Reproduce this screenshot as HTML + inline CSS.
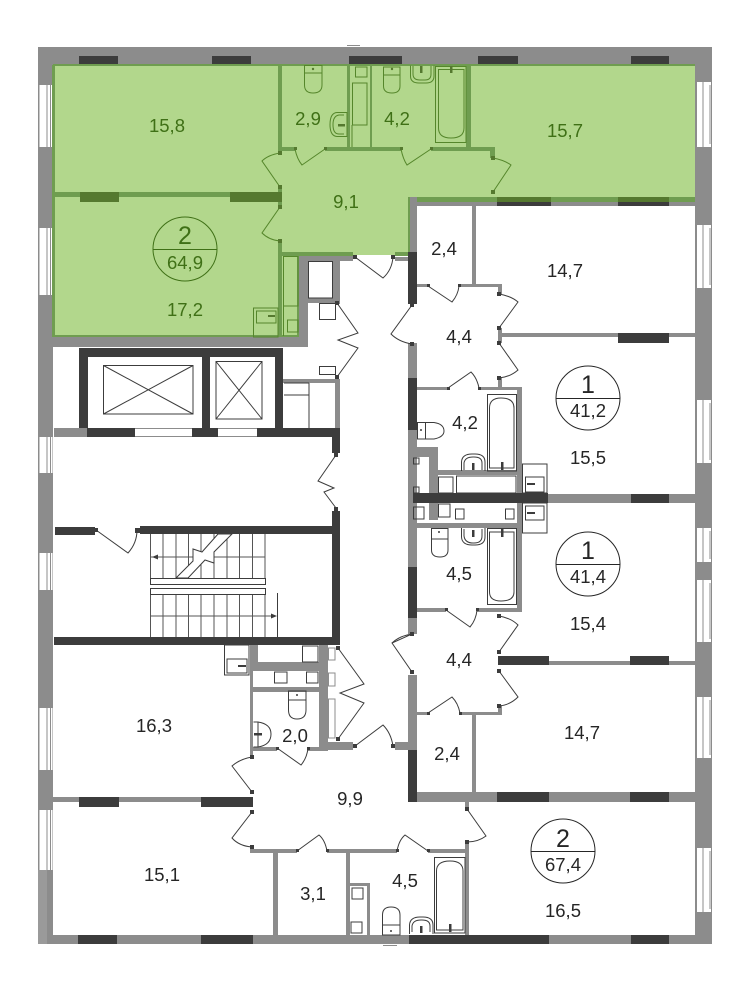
<!DOCTYPE html>
<html><head><meta charset="utf-8"><style>
html,body{margin:0;padding:0;background:#fff}
svg{display:block}
.g{fill:#8c8c8c}.d{fill:#3c3c3c}.w{fill:#6f9d50}.k{fill:#55792f}.wh{fill:#fff}
.l{fill:none;stroke:#3c3c3c;stroke-width:1}
.lg{fill:none;stroke:#8c8c8c;stroke-width:1}
.lw{fill:none;stroke:#55862b;stroke-width:1}
.bf{fill:#fff;stroke:#3c3c3c;stroke-width:1}
text{font-family:"Liberation Sans",sans-serif;font-size:18.5px;text-anchor:middle;fill:#262626}
.t{fill:#3f7016}
</style></head><body>
<svg width="741" height="1000" viewBox="0 0 741 1000" xmlns="http://www.w3.org/2000/svg">
<!-- outer wall -->
<rect class="g" x="38" y="47" width="674" height="897"/>
<rect x="38" y="870" width="9" height="74" fill="#9a9a9a"/>
<rect class="wh" x="53" y="65" width="642" height="870"/>
<rect class="g" x="347" y="45" width="13" height="1"/>
<rect class="g" x="383" y="945" width="14" height="1"/>
<!-- green area -->
<path d="M53 65H695V197H409V255H353V252H298V337H53Z" fill="#b2d78c"/>
<!-- top/bottom dark -->
<g class="d">
<rect x="79" y="56" width="39" height="9"/><rect x="212" y="56" width="39" height="9"/><rect x="349" y="56" width="53" height="9"/><rect x="478" y="56" width="40" height="9"/><rect x="631" y="56" width="38" height="9"/>
<rect x="78" y="935" width="39" height="9"/><rect x="201" y="935" width="52" height="9"/><rect x="409" y="935" width="140" height="9"/><rect x="631" y="935" width="38" height="9"/>
</g>
<!-- green edge -->
<g class="w">
<rect x="53" y="64" width="642" height="2"/><rect x="52" y="65" width="3" height="272"/><rect x="53" y="335" width="245" height="2"/>
<rect x="53" y="192" width="227" height="5"/><rect x="278" y="65" width="4" height="88"/><rect x="278" y="147" width="17" height="4"/>
<rect x="325" y="147" width="76" height="4"/><rect x="431" y="147" width="64" height="4"/>
<rect x="347" y="65" width="3" height="84"/><rect x="370" y="65" width="2" height="84"/>
<rect x="466" y="65" width="5" height="85"/><rect x="490" y="147" width="5" height="11"/>
<rect x="278" y="241" width="4" height="96"/><rect x="278" y="252" width="75" height="4"/><rect x="395" y="252" width="14" height="4"/>
<rect x="297" y="256" width="2" height="81"/>
<rect x="408" y="197" width="287" height="5"/><rect x="408" y="197" width="2" height="58"/>
<rect x="278" y="187" width="4" height="5"/><rect x="278" y="202" width="4" height="5"/>
</g>
<g class="k"><rect x="80" y="192" width="39" height="10"/><rect x="230" y="192" width="52" height="10"/></g>
<!-- gray walls -->
<g class="g">
<rect x="38" y="337" width="270" height="10"/><rect x="299" y="256" width="9" height="82"/><rect x="299" y="256" width="54" height="5"/><rect x="333" y="256" width="7" height="48"/><rect x="308" y="298" width="32" height="5"/><rect x="395" y="257" width="14" height="4"/>
<rect x="283" y="379" width="57" height="4"/><rect x="335" y="379" width="5" height="49"/>
<rect x="54" y="428" width="33" height="9"/>
<rect x="410" y="202" width="285" height="4"/><rect x="410" y="197" width="7" height="56"/><rect x="472" y="206" width="4" height="80"/>
<rect x="417" y="284" width="11" height="3"/><rect x="459" y="284" width="43" height="3"/><rect x="498" y="284" width="4" height="10"/>
<rect x="498" y="328" width="4" height="15"/><rect x="500" y="333" width="195" height="4"/>
<rect x="498" y="378" width="4" height="10"/><rect x="417" y="387" width="31" height="3"/><rect x="479" y="387" width="43" height="3"/>
<rect x="408" y="343" width="9" height="35"/><rect x="408" y="430" width="9" height="100"/>
<rect x="417" y="447" width="21" height="10"/><rect x="429" y="457" width="9" height="63"/><rect x="438" y="470" width="80" height="5"/>
<rect x="408" y="523" width="112" height="5"/><rect x="517" y="387" width="5" height="225"/>
<rect x="548" y="494" width="147" height="9"/>
<rect x="408" y="528" width="9" height="39"/><rect x="408" y="618" width="9" height="16"/>
<rect x="417" y="608" width="29" height="4"/><rect x="477" y="608" width="45" height="4"/>
<rect x="549" y="661" width="146" height="4"/><rect x="408" y="675" width="9" height="75"/><rect x="395" y="742" width="13" height="8"/>
<rect x="417" y="712" width="11" height="3"/><rect x="460" y="712" width="42" height="3"/><rect x="498" y="705" width="4" height="10"/>
<rect x="472" y="715" width="4" height="77"/><rect x="417" y="792" width="278" height="10"/>
<rect x="465" y="802" width="4" height="8"/><rect x="465" y="842" width="4" height="93"/>
<rect x="250" y="849" width="47" height="4"/><rect x="327" y="849" width="70" height="4"/><rect x="428" y="849" width="41" height="4"/>
<rect x="273" y="853" width="5" height="82"/><rect x="346" y="853" width="4" height="82"/>
<rect x="350" y="883" width="17" height="3"/><rect x="367" y="883" width="3" height="52"/>
<rect x="53" y="797" width="148" height="5"/>
<rect x="250" y="645" width="3" height="113"/><rect x="250" y="645" width="8" height="26"/><rect x="250" y="662" width="69" height="9"/><rect x="253" y="687" width="66" height="5"/>
<rect x="319" y="645" width="9" height="105"/><rect x="253" y="747" width="24" height="4"/><rect x="308" y="747" width="20" height="4"/><rect x="328" y="742" width="25" height="8"/>
<rect x="250" y="847" width="3" height="5"/>
</g>
<!-- dark walls -->
<g class="d">
<rect x="408" y="252" width="9" height="52"/><rect x="618" y="333" width="51" height="10"/><rect x="408" y="378" width="9" height="52"/>
<rect x="413" y="493" width="135" height="10"/><rect x="631" y="494" width="38" height="9"/>
<rect x="408" y="567" width="9" height="51"/><rect x="498" y="656" width="51" height="9"/><rect x="630" y="656" width="39" height="9"/>
<rect x="408" y="750" width="9" height="52"/><rect x="497" y="792" width="52" height="10"/><rect x="630" y="792" width="39" height="10"/>
<rect x="497" y="197" width="54" height="9" /><rect x="618" y="197" width="51" height="9"/>
<rect x="79" y="348" width="204" height="9"/><rect x="79" y="348" width="9" height="80"/><rect x="202" y="348" width="8" height="80"/><rect x="275" y="348" width="8" height="80"/>
<rect x="87" y="428" width="48" height="9"/><rect x="192" y="428" width="26" height="9"/><rect x="257" y="428" width="83" height="9"/>
<rect x="332" y="428" width="8" height="25"/><rect x="332" y="511" width="8" height="134"/>
<rect x="140" y="526" width="192" height="8"/><rect x="55" y="527" width="40" height="8"/>
<rect x="54" y="637" width="286" height="8"/>
<rect x="79" y="797" width="40" height="10"/><rect x="201" y="797" width="52" height="10"/>
</g>
<rect x="497" y="197" width="54" height="5" fill="#55792f"/><rect x="618" y="197" width="51" height="5" fill="#55792f"/>
<!-- window gaps core -->
<g class="lg"><path d="M135 436.5H192M218 436.5H257M135 428.5H192M218 428.5H257"/></g>
<!-- side windows -->
<g id="leftw">
<rect class="wh" x="39.5" y="85" width="13" height="62"/><rect class="wh" x="39.5" y="228" width="13" height="67"/><rect class="wh" x="39.5" y="437" width="13" height="36"/><rect class="wh" x="39.5" y="553" width="13" height="37"/><rect class="wh" x="39.5" y="708" width="13" height="62"/><rect class="wh" x="39.5" y="810" width="13" height="60"/>
</g>
<path class="lg" d="M47 85V147M50.500 85V147M47 228V295M50.500 228V295M47 437V473M50.500 437V473M47 553V590M50.500 553V590M47 708V770M50.500 708V770M47 810V870M50.500 810V870"/>
<path stroke="#6f9d50" fill="none" d="M52.500 85V147M52.500 228V295"/>
<rect class="wh" x="697" y="82" width="14" height="65"/><rect class="wh" x="697" y="225" width="14" height="63"/><rect class="wh" x="697" y="400" width="14" height="63"/><rect class="wh" x="697" y="528" width="14" height="34"/><rect class="wh" x="697" y="580" width="14" height="62"/><rect class="wh" x="697" y="697" width="14" height="61"/><rect class="wh" x="697" y="848" width="14" height="64"/>
<path class="lg" d="M703 82V147M710 85V144M703 225V288M710 228V285M703 400V463M710 403V460M703 528V562M710 531V559M703 580V642M710 583V639M703 697V758M710 700V755M703 848V912M710 851V909"/>
<!-- lift -->
<path class="l" d="M103.500 365.500H193V414H103.500ZM103.500 365.500L193 414M193 365.500L103.500 414"/>
<path class="l" d="M216 361.500H262V419H216ZM216 361.500L262 419M262 361.500L216 419"/>
<path class="l" d="M284 395H309M309 383V428M284 383H309"/>
<path class="l" d="M308.500 261.500H332.500V298H308.500Z"/>
<rect class="bf" x="319.500" y="303.500" width="16" height="16"/><rect class="bf" x="319.500" y="366.500" width="16" height="8"/>
<!-- stairs -->
<path class="lg" style="stroke:#555" d="M150.500 534V578M163 534V578M176 534V578M188.500 534V578M201 534V578M214 534V578M227 534V578M239.500 534V578M252.500 534V578M265 534V578M150 557H265M150.500 594V637M163 594V637M176 594V637M188.500 594V637M201 594V637M214 594V637M227 594V637M239.500 594V637M252.500 594V637M265 594V637M150 616H272"/>
<path class="l" d="M150.500 578.500H265.500V584.500H150.500ZM150.500 588.500H265.500V594.500H150.500ZM277.500 593V637"/>
<path d="M176 578L193 561L193 549L202 552L218 534H232L214 552L214 563L205 560L188 578Z" fill="#fff" stroke="#3c3c3c" stroke-width="1"/>
<path d="M152 557L158 554.500V559.500Z M277 616L271 613.500V618.500Z" fill="#3c3c3c"/>
<!-- doors -->
<g class="l">
<path d="M96 530L128 553Q137 543 137 530"/>
<path d="M337 303L358 333L338 340L358 348L337 377"/>
<path d="M336 455L318 481L334 488L324 492L336 508"/>
<path d="M355 257L383 278Q392 270 393 257"/>
<path d="M412 305L391 334Q399 342 412 344"/>
<path d="M428 286L452 302Q458 295 459 286"/>
<path d="M499 294Q511 296 518 302L499 328"/>
<path d="M499 343L518 370Q510 377 499 378"/>
<path d="M448 388L471 372Q477 378 479 388"/>
<path d="M446 610L470 627Q476 620 477 610"/>
<path d="M499 616Q511 618 518 625L499 652"/>
<path d="M412 634L392 643L412 672M392 643Q399 636 412 634"/>
<path d="M499 671L518 697Q510 705 499 706"/>
<path d="M428 713L452 697Q458 703 460 713"/>
<path d="M355 746L383 725Q391 733 393 746"/>
<path d="M467 809L486 836Q478 842 467 842"/>
<path d="M397 851Q399 840 405 835L428 851"/>
<path d="M297 851L319 835Q325 840 327 851"/>
<path d="M252 812L232 838Q239 846 252 847"/>
<path d="M252 757Q240 759 232 766L252 792"/>
<path d="M277 748L301 765Q307 758 308 748"/>
<path d="M338 648L364 684L340 693L364 703L338 739"/>
</g>
<g class="d">
<rect x="94" y="528" width="4" height="4"/><rect x="135" y="528" width="5" height="5"/><rect x="335" y="301" width="4" height="4"/><rect x="353" y="255" width="4" height="4"/><rect x="391" y="255" width="4" height="4"/><rect x="335" y="375" width="4" height="4"/><rect x="334" y="453" width="4" height="4"/><rect x="334" y="507" width="4" height="4"/>
<rect x="410" y="303" width="4" height="4"/><rect x="410" y="342" width="4" height="4"/><rect x="427" y="284" width="3" height="3"/><rect x="458" y="284" width="3" height="3"/><rect x="497" y="292" width="4" height="4"/><rect x="497" y="326" width="4" height="4"/><rect x="497" y="341" width="4" height="4"/><rect x="497" y="376" width="4" height="4"/>
<rect x="447" y="387" width="3" height="3"/><rect x="478" y="387" width="3" height="3"/><rect x="445" y="608" width="3" height="3"/><rect x="476" y="608" width="3" height="3"/><rect x="497" y="614" width="4" height="4"/><rect x="497" y="650" width="4" height="4"/><rect x="410" y="632" width="4" height="4"/><rect x="410" y="670" width="4" height="4"/><rect x="497" y="669" width="4" height="4"/><rect x="497" y="704" width="4" height="4"/><rect x="427" y="712" width="3" height="3"/><rect x="459" y="712" width="3" height="3"/><rect x="353" y="744" width="4" height="4"/><rect x="391" y="744" width="4" height="4"/><rect x="465" y="807" width="4" height="4"/><rect x="465" y="840" width="4" height="4"/><rect x="396" y="849" width="3" height="3"/><rect x="427" y="849" width="3" height="3"/><rect x="296" y="849" width="3" height="3"/><rect x="326" y="849" width="3" height="3"/><rect x="250" y="810" width="4" height="4"/><rect x="250" y="845" width="4" height="4"/><rect x="250" y="755" width="4" height="4"/><rect x="250" y="790" width="4" height="4"/><rect x="276" y="747" width="3" height="3"/><rect x="307" y="747" width="3" height="3"/><rect x="336" y="646" width="4" height="4"/><rect x="336" y="737" width="4" height="4"/>
</g>
<g class="lw">
<path d="M280 153Q268 155 262 161L280 187"/><path d="M280 207L262 233Q269 240 280 241"/>
<path d="M295 149Q297 159 302 165L325 149"/><path d="M401 149Q403 159 407 165L431 149"/>
<path d="M493 158Q504 160 511 165L493 192"/>
</g>
<g class="k"><rect x="278" y="151" width="4" height="4"/><rect x="278" y="185" width="4" height="4"/><rect x="278" y="205" width="4" height="4"/><rect x="278" y="239" width="4" height="4"/><rect x="294" y="147" width="3" height="3"/><rect x="324" y="147" width="3" height="3"/><rect x="400" y="147" width="3" height="3"/><rect x="430" y="147" width="3" height="3"/><rect x="491" y="156" width="4" height="4"/><rect x="491" y="190" width="4" height="4"/></g>
<!-- green fixtures -->
<g class="lw">
<path d="M304.500 65.500H322V73H304.500ZM304.500 73V85Q304.500 93 313 93Q322 93 322 85V73"/>
<path d="M347 112.500H337Q330 113 330 124.500Q330 136 337 136.500H347ZM344 115H339Q333 116 333 124.500Q333 134 339 134H344"/>
<path d="M352.500 83H367V125H352.500ZM355.500 67H367V77H355.500ZM352 125V147"/>
<path d="M383.500 67H400V75H383.500ZM383.500 75V86Q383.500 93 392 93Q400 93 400 86V75"/>
<path d="M410.500 65.500V76Q410.500 83 419 83H426Q434 83 434 76V65.500M413 66V74Q413 80 420 80H425Q431 80 431 74V66"/>
<path d="M435.500 66.500H466V142.500H435.500ZM438.500 69.500H464V128Q464 138 451 138Q438.500 138 438.500 128Z"/>
<path d="M253.500 308H278V337H253.500ZM256.500 311H276V323H256.500Z"/>
<path d="M283.500 256.500H298V306H283.500ZM283.500 306V336M287.500 320H298V332H287.500Z"/>
</g>
<g class="k"><circle cx="313" cy="69" r="1.200"/><circle cx="392" cy="69" r="1.200"/><rect x="338" y="124" width="7" height="2.500"/><rect x="420" y="66" width="2.500" height="7"/><rect x="450" y="66" width="2.500" height="7"/><rect x="268" y="315" width="7" height="2"/></g>
<!-- black fixtures -->
<g class="l">
<path d="M417.500 422.500H425.500V439H417.500ZM425.500 422.500H434Q444 424 444 431Q444 437 434 439H425.500"/>
<path d="M461.500 471V462Q462 454 472 454H475Q485 454 485 462V471M464 470V463Q465 457 473 457H474Q482 457 482 463V470"/>
<path d="M487.500 394.500H516.500V471H487.500ZM489.500 408Q489.500 398 501 398Q514 398 514 408V468H489.500Z"/>
<path d="M522.500 464H547V493H522.500ZM525.500 477H544V492H525.500Z"/>
<path d="M522.500 503H547V533H522.500ZM525.500 506H544V520H525.500Z"/>
<path d="M438.500 477H453V493H438.500ZM456.500 476H516V493H456.500ZM438.500 504H450V517H438.500ZM455.500 509H464V519H455.500ZM505.500 509H514V519H505.500ZM413.500 507H424V519H413.500ZM413.500 458H419V464H413.500ZM413.500 487H419V493H413.500Z"/>
<path d="M461.500 528V537Q462 545 472 545H475Q485 545 485 537V528M464 529V536Q465 543 473 543H474Q482 543 482 536V529"/>
<path d="M487.500 528.500H516.500V604.500H487.500ZM489.500 532H514V592Q514 601 501 601Q489.500 601 489.500 592Z"/>
<path d="M431.500 528.500H448V539H431.500ZM431.500 539V550Q431.500 557 440 557Q448 557 448 550V539"/>
<path d="M434.500 857.500H465V933H434.500ZM436.500 871Q436.500 861 450 861Q463 861 463 871V930H436.500Z"/>
<path d="M409.500 934V925Q410 917 420 917H423Q433 917 433 925V934M412 932V926Q413 920 421 920H422Q430 920 430 926V932"/>
<path d="M382.500 925H400V935H382.500ZM382.500 925V915Q382.500 907 391 907Q400 907 400 915V925"/>
<path d="M352 888H363V899H352ZM351 922H362V933H351Z"/>
<path d="M224.500 645H249V675H224.500ZM227 659H247V673H227Z"/>
<path d="M274.500 672H287V683H274.500ZM306.500 672H318V683H306.500ZM302.500 646H318V662H302.500Z"/>
<path d="M288.500 691H306V700H288.500ZM288.500 700V710Q288.500 719 297 719Q306 719 306 710V700"/>
<path d="M253.500 722H258Q271 724 271 734Q271 745 258 747H253.500M258 722V747"/>
</g>
<g class="lg"><path d="M328.500 648H335V660H328.500ZM328.500 673H335V686H328.500ZM328.500 699H335V738H328.500Z"/></g>
<g class="d">
<circle cx="421" cy="430" r="1"/><circle cx="439" cy="532" r="1"/><circle cx="391" cy="931" r="1"/><circle cx="297" cy="695" r="1"/>
<rect x="472" y="463" width="2.500" height="7"/><rect x="501" y="462" width="2.500" height="8"/><rect x="527" y="483" width="8" height="2"/><rect x="527" y="512" width="8" height="2"/><rect x="472" y="530" width="2.500" height="7"/><rect x="501" y="529" width="2.500" height="8"/><rect x="449" y="924" width="2.500" height="8"/><rect x="420" y="926" width="2.500" height="7"/><rect x="254" y="733" width="8" height="2.500"/><rect x="238" y="665" width="8" height="2"/>
</g>
<!-- circles -->
<g fill="none" stroke="#3f7016" stroke-width="1"><circle cx="185" cy="249" r="32"/><path d="M153 249.500H217"/></g>
<g fill="none" stroke="#262626" stroke-width="1"><circle cx="588" cy="398" r="32"/><path d="M556 398.500H620"/><circle cx="588" cy="564" r="32"/><path d="M556 564.500H620"/><circle cx="563" cy="851" r="32"/><path d="M531 851.500H595"/></g>
<!-- text -->
<g class="t">
<text class="t" x="167" y="132">15,8</text><text class="t" x="308" y="125">2,9</text><text class="t" x="346" y="208">9,1</text><text class="t" x="185" y="316">17,2</text><text class="t" x="185" y="244" style="font-size:25px">2</text><text class="t" x="185" y="269">64,9</text><text class="t" x="397" y="125">4,2</text><text class="t" x="565" y="137">15,7</text>
</g>
<text x="444" y="255">2,4</text><text x="565" y="277">14,7</text><text x="459" y="343">4,4</text>
<text x="588" y="393" style="font-size:25px">1</text><text x="588" y="417">41,2</text><text x="588" y="464">15,5</text><text x="465" y="429">4,2</text>
<text x="588" y="559" style="font-size:25px">1</text><text x="588" y="583">41,4</text><text x="588" y="630">15,4</text><text x="459" y="580">4,5</text>
<text x="459" y="666">4,4</text><text x="582" y="739">14,7</text><text x="447" y="760">2,4</text>
<text x="563" y="847" style="font-size:25px">2</text><text x="563" y="871">67,4</text><text x="563" y="917">16,5</text><text x="405" y="887">4,5</text>
<text x="154" y="732">16,3</text><text x="295" y="742">2,0</text><text x="350" y="805">9,9</text><text x="162" y="881">15,1</text><text x="313" y="900">3,1</text>
</svg>
</body></html>
